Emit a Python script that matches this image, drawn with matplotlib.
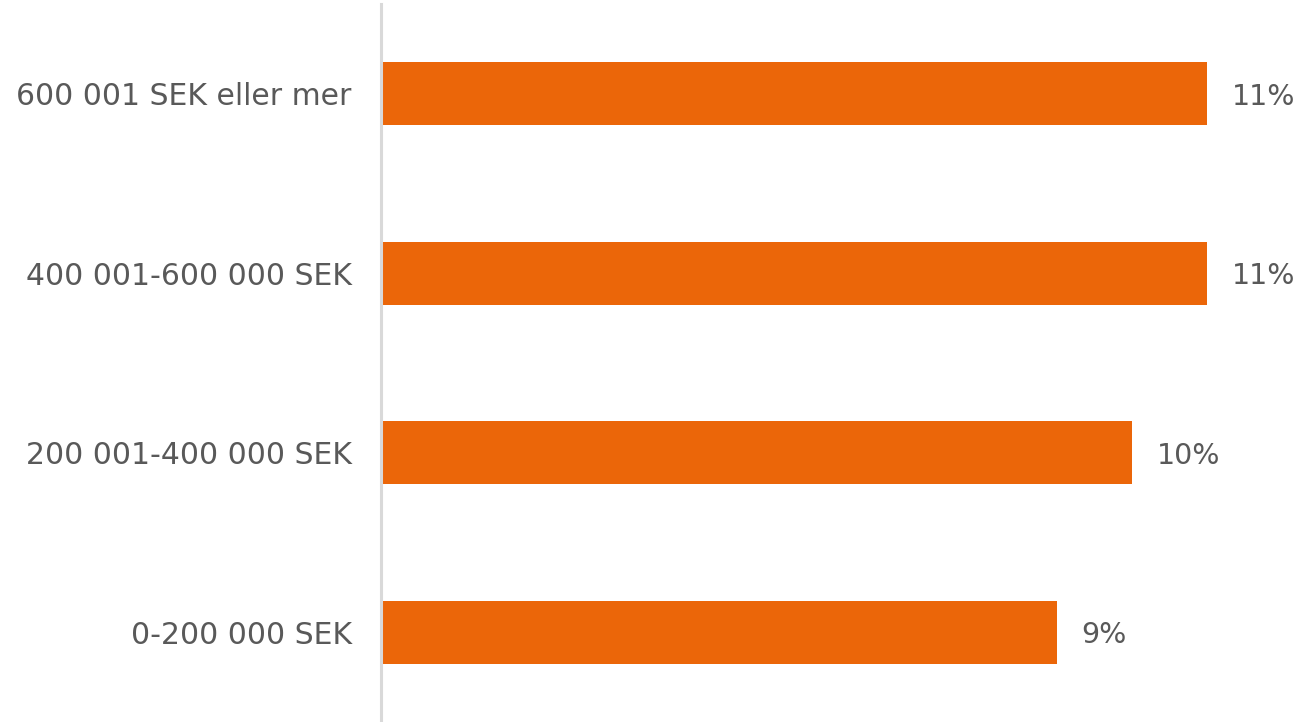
import matplotlib.pyplot as plt

# data
kategorier = ["0-200 000 SEK", "200 001-400 000 SEK", "400 001-600 000 SEK", "600 001 SEK eller mer"]
andel = [9, 10, 11, 11]
etiketter = ["9%", "10%", "11%", "11%"]

plt.rcParams["font.family"] = ["DejaVu Sans"]

fig = plt.figure(figsize=(13.04, 7.22), dpi=100)
ax = fig.add_axes([381 / 1304, 0.0, (1282 - 381) / 1304, 718 / 722])

bars = ax.barh(range(len(kategorier)), andel, height=0.35, color="#EB6609")
for b, txt in zip(bars, etiketter):
    ax.text(b.get_width() + 0.33, b.get_y() + b.get_height() / 2, txt,
            va="center_baseline", ha="left", fontsize=20.5, color="#595959")

ax.set_yticks(range(len(kategorier)))
ax.set_yticklabels(kategorier, fontsize=21.5, color="#595959")
ax.tick_params(axis="y", length=0, pad=21)
ax.set_xticks([])
ax.set_xlim(0, 12)
ax.set_ylim(-0.5, 3.5)

for s in ["top", "right", "bottom"]:
    ax.spines[s].set_visible(False)
ax.spines["left"].set_color("#d9d9d9")
ax.spines["left"].set_linewidth(2.2)

fig.savefig("out.png", dpi=100)
